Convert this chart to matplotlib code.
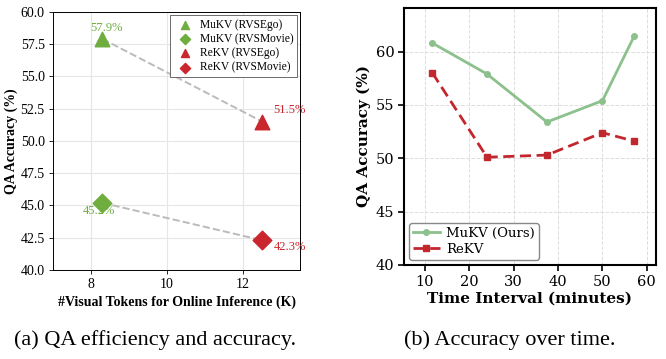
import matplotlib.pyplot as plt

# panel (a): tokens vs accuracy
tokens = [8.3, 12.5]
ego_acc = [57.9, 51.5]
movie_acc = [45.2, 42.3]
methods = ["MuKV", "ReKV"]

# panel (b): accuracy over time
minutes = [11.7, 24.0, 37.5, 50.0, 57.2]
mukv_time = [60.8, 57.9, 53.4, 55.4, 61.5]
rekv_time = [58.0, 50.1, 50.3, 52.4, 51.6]

GREEN_A = "#6fae3e"
RED_A = "#c9262d"
GREEN_B = "#8cc08c"
RED_B = "#c3272e"

fig = plt.figure(figsize=(6.66, 3.59), dpi=100)

# --- (a) ---
ax1 = fig.add_axes([0.0796, 0.248, 0.371, 0.719])
serif = "Liberation Serif"
colors = [GREEN_A, RED_A]
ax1.plot(tokens, ego_acc, "--", color="#bbbbbb", lw=1.4, zorder=1)
ax1.plot(tokens, movie_acc, "--", color="#bbbbbb", lw=1.4, zorder=1)
for i, m in enumerate(methods):
    ax1.scatter(tokens[i], ego_acc[i], marker="^", s=110, color=colors[i],
                label=f"{m} (RVSEgo)", zorder=3)
    ax1.scatter(tokens[i], movie_acc[i], marker="D", s=90, color=colors[i],
                label=f"{m} (RVSMovie)", zorder=3)
leg = ax1.legend(loc="upper right", prop={"family": serif, "size": 8.3},
                 markerscale=0.55, handletextpad=0.3, borderpad=0.3,
                 labelspacing=0.2, framealpha=1, edgecolor="#555555",
                 fancybox=False, borderaxespad=0.3)
leg.get_frame().set_linewidth(0.6)
ax1.text(8.4, 58.3, f"{ego_acc[0]}%", color=GREEN_A, fontsize=9, family=serif,
         ha="center", va="bottom")
ax1.text(12.8, 52.4, f"{ego_acc[1]}%", color=RED_A, fontsize=9, family=serif,
         ha="left", va="center")
ax1.text(8.2, 44.6, f"{movie_acc[0]}%", color=GREEN_A, fontsize=9, family=serif,
         ha="center", va="center")
ax1.text(12.8, 41.8, f"{movie_acc[1]}%", color=RED_A, fontsize=9, family=serif,
         ha="left", va="center")
ax1.set_xlim(7.0, 13.5)
ax1.set_ylim(40, 60)
ax1.set_xticks([8, 10, 12])
ax1.set_yticks([40 + 2.5 * k for k in range(9)])
ax1.set_yticklabels([f"{40 + 2.5 * k:.1f}" for k in range(9)])
ax1.grid(True, color="#e6e6e6", lw=0.8)
ax1.set_axisbelow(True)
for lab in ax1.get_xticklabels() + ax1.get_yticklabels():
    lab.set_family(serif)
    lab.set_fontsize(10)
ax1.tick_params(length=3, width=0.6, pad=3)
for s in ax1.spines.values():
    s.set_linewidth(0.7)
ax1.set_xlabel("#Visual Tokens for Online Inference (K)", family=serif,
               fontweight="bold", fontsize=10, labelpad=3)
ax1.set_ylabel("QA Accuracy (%)", family=serif, fontweight="bold",
               fontsize=10, labelpad=2)

# --- (b) ---
ax2 = fig.add_axes([0.6066, 0.262, 0.378, 0.716])
ax2.plot(minutes, mukv_time, "-o", color=GREEN_B, lw=2, ms=4,
         label="MuKV (Ours)")
ax2.plot(minutes, rekv_time, "--s", color=RED_B, lw=2, ms=5,
         dashes=(4, 2), label="ReKV")
ax2.set_xlim(5.3, 62)
ax2.set_ylim(40, 64.1)
ax2.set_xticks([10, 20, 30, 40, 50, 60])
ax2.set_yticks([40, 45, 50, 55, 60])
ax2.grid(True, color="#dddddd", ls="--", lw=0.7)
ax2.set_axisbelow(True)
for lab in ax2.get_xticklabels() + ax2.get_yticklabels():
    lab.set_family("DejaVu Serif")
    lab.set_fontsize(10.5)
ax2.tick_params(length=4, width=1.2, pad=3)
for s in ax2.spines.values():
    s.set_linewidth(1.5)
ax2.set_xlabel("Time Interval (minutes)", family="DejaVu Serif",
               fontweight="bold", fontsize=11, labelpad=2)
ax2.set_ylabel("QA Accuracy (%)", family="DejaVu Serif", fontweight="bold",
               fontsize=11, labelpad=3)
leg2 = ax2.legend(loc="lower left", prop={"family": "DejaVu Serif", "size": 9.5},
                  handlelength=2.0, borderpad=0.3, labelspacing=0.2,
                  handletextpad=0.5, framealpha=1, edgecolor="#888888",
                  fancybox=True, borderaxespad=0.4)

# captions
fig.text(0.233, 0.053, "(a) QA efficiency and accuracy.", family=serif,
         fontsize=16, ha="center", va="center")
fig.text(0.766, 0.053, "(b) Accuracy over time.", family=serif,
         fontsize=16, ha="center", va="center")

fig.savefig("out.png", dpi=100)
